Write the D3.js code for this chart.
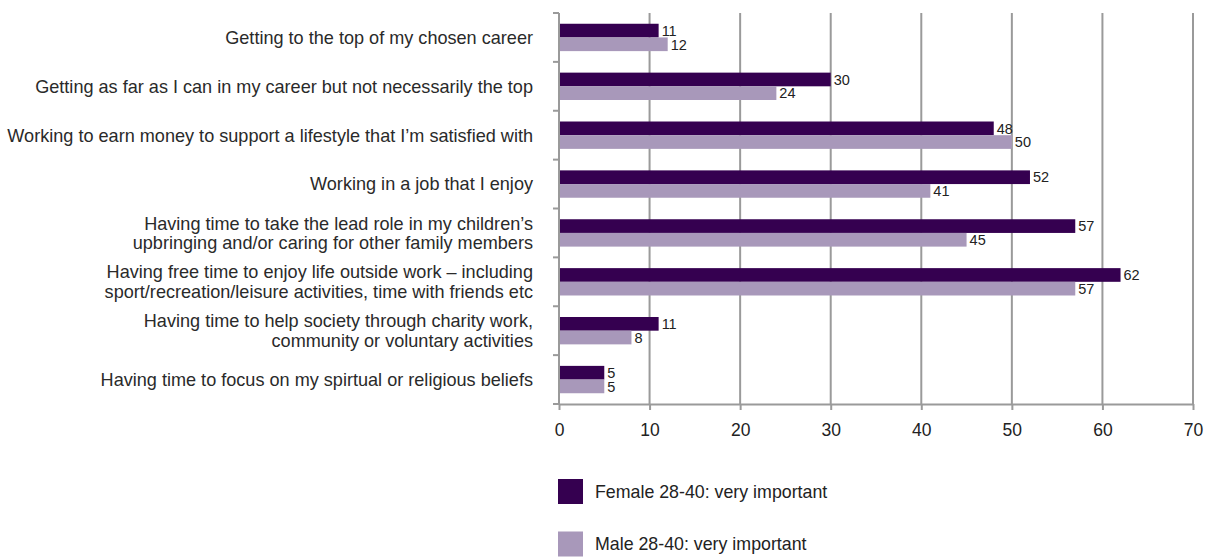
<!DOCTYPE html>
<html>
<head>
<meta charset="utf-8">
<script src="https://cdn.jsdelivr.net/npm/d3@7"></script>
<style>
  html, body { margin: 0; padding: 0; background: #fff; }
  svg { display: block; font-family: "Liberation Sans", Arial, sans-serif; }
</style>
</head>
<body>
<svg id="chart" width="1206" height="559"></svg>
<script>
// Survey items (each entry is an array of label lines)
const categories = [
  ["Getting to the top of my chosen career"],
  ["Getting as far as I can in my career but not necessarily the top"],
  ["Working to earn money to support a lifestyle that I\u2019m satisfied with"],
  ["Working in a job that I enjoy"],
  ["Having time to take the lead role in my children\u2019s", "upbringing and/or caring for other family members"],
  ["Having free time to enjoy life outside work \u2013 including", "sport/recreation/leisure activities, time with friends etc"],
  ["Having time to help society through charity work,", "community or voluntary activities"],
  ["Having time to focus on my spirtual or religious beliefs"]
];
const femaleValues = [11, 30, 48, 52, 57, 62, 11, 5];
const maleValues   = [12, 24, 50, 41, 45, 57, 8, 5];
const seriesNames  = ["Female 28-40: very important", "Male 28-40: very important"];
const seriesColors = ["#350050", "#a898ba"];
const xTicks = [0, 10, 20, 30, 40, 50, 60, 70];

const svg = d3.select("#chart");
const plotLeft = 559, plotRight = 1193, plotTop = 13, plotBottom = 404;

const x = d3.scaleLinear().domain([0, 70]).range([plotLeft, plotRight]);
const y = d3.scaleBand().domain(d3.range(categories.length)).range([plotTop, plotBottom]).paddingInner(0.44).paddingOuter(0.22);
const sub = d3.scaleBand().domain([0, 1]).range([0, y.bandwidth()]);

const axisColor = "#9a9a9a";
const textColor = "#222";

// vertical gridlines
svg.append("g").selectAll("line").data(xTicks.slice(1)).join("line")
  .attr("x1", d => x(d)).attr("x2", d => x(d))
  .attr("y1", plotTop).attr("y2", plotBottom)
  .attr("stroke", axisColor).attr("stroke-width", 2);

// bars and value labels
const series = [femaleValues, maleValues];
series.forEach((vals, s) => {
  svg.append("g").selectAll("rect").data(vals).join("rect")
    .attr("x", x(0))
    .attr("y", (d, i) => y(i) + sub(s))
    .attr("width", d => x(d) - x(0))
    .attr("height", sub.bandwidth())
    .attr("fill", seriesColors[s]);
  svg.append("g").selectAll("text").data(vals).join("text")
    .attr("x", d => x(d) + 3)
    .attr("y", (d, i) => y(i) + sub(s) + sub.bandwidth() / 2)
    .attr("dy", "0.36em")
    .attr("font-size", 14.5)
    .attr("fill", textColor)
    .text(d => d);
});

// bottom axis
const xAxis = d3.axisBottom(x).tickValues(xTicks).tickSize(6).tickPadding(14).tickSizeOuter(0);
const gx = svg.append("g").attr("transform", `translate(0,${plotBottom})`).call(xAxis);
gx.select(".domain").attr("stroke", axisColor).attr("stroke-width", 2);
gx.selectAll(".tick line").attr("stroke", axisColor).attr("stroke-width", 2);
gx.selectAll(".tick text").attr("font-size", 17.5).attr("fill", textColor).attr("font-family", "Liberation Sans, Arial, sans-serif");

// left axis line with category separators
const gy = svg.append("g");
gy.append("line").attr("x1", plotLeft).attr("x2", plotLeft).attr("y1", plotTop).attr("y2", plotBottom)
  .attr("stroke", axisColor).attr("stroke-width", 2);
const step = (plotBottom - plotTop) / categories.length;
gy.selectAll(".sep").data(d3.range(categories.length + 1)).join("line")
  .attr("x1", plotLeft - 6).attr("x2", plotLeft)
  .attr("y1", i => plotTop + i * step).attr("y2", i => plotTop + i * step)
  .attr("stroke", axisColor).attr("stroke-width", 2);

// category labels
const lab = svg.append("g").selectAll("text").data(categories).join("text")
  .attr("text-anchor", "end")
  .attr("font-size", 18.1)
  .attr("fill", "#2a2a2a")
  .attr("transform", (d, i) => `translate(533,${plotTop + (i + 0.5) * step})`);
lab.selectAll("tspan").data(d => d.map((t, j) => ({t, j, n: d.length}))).join("tspan")
  .attr("x", 0)
  .attr("y", d => (d.j - (d.n - 1) / 2) * 19.5)
  .attr("dy", "0.35em")
  .text(d => d.t);

// legend
const legend = svg.append("g").selectAll("g").data(seriesNames).join("g")
  .attr("transform", (d, i) => `translate(558,${479 + i * 52.5})`);
legend.append("rect").attr("width", 25).attr("height", 25).attr("fill", (d, i) => seriesColors[i]);
legend.append("text").attr("x", 37).attr("y", 12.5).attr("dy", "0.35em")
  .attr("font-size", 17.8).attr("fill", textColor).text(d => d);
</script>
</body>
</html>
